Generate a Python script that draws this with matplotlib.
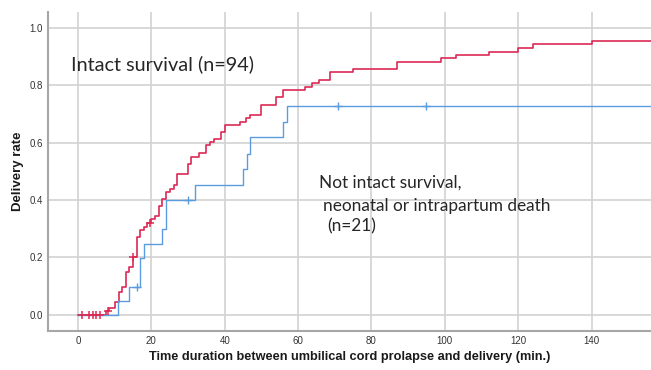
import numpy as np
import matplotlib
matplotlib.use("Agg")
import matplotlib.pyplot as plt

# ---------------- data ----------------
red_t = [0, 7.7, 8.5, 10, 11.1, 12.1, 13, 13.9, 15, 16.1,
         17, 17.9, 18.8, 20, 21.1, 22, 22.9, 23.9, 25, 26.1,
         27, 30, 30.9, 32.9, 35, 36.1, 37, 39.1, 40, 44.1,
         45.9, 47, 50, 53.9, 55.9, 62, 63.8, 65.7, 68.8, 75,
         87, 99, 103, 112, 120, 124, 140]
red_y = [0, 0.011, 0.022, 0.045, 0.08, 0.095, 0.15, 0.165, 0.2, 0.27,
         0.295, 0.305, 0.32, 0.333, 0.344, 0.38, 0.403, 0.427, 0.438, 0.451,
         0.49, 0.524, 0.549, 0.563, 0.59, 0.601, 0.614, 0.635, 0.662, 0.673,
         0.685, 0.697, 0.731, 0.757, 0.784, 0.793, 0.807, 0.819, 0.845, 0.857,
         0.881, 0.893, 0.905, 0.917, 0.929, 0.942, 0.953]
red_censor = [1, 3, 4, 5, 6, 8.2, 15, 19.7]

blue_t = [0, 11, 14, 17, 18, 23, 23.9, 32, 45, 46, 47, 55.9, 57]
blue_y = [0, 0.047, 0.095, 0.197, 0.247, 0.297, 0.399, 0.452, 0.508,
          0.56, 0.619, 0.671, 0.728]
blue_censor = [16, 30, 71, 95]

x_ticks = [0, 20, 40, 60, 80, 100, 120, 140]
y_ticks = [0.0, 0.2, 0.4, 0.6, 0.8, 1.0]

RED = "#dc2a55"
BLUE = "#5b9be0"
X_END = 156.2


def step_value(t, y, at):
    idx = np.searchsorted(t, at, side="right") - 1
    return np.asarray(y)[idx]


fig = plt.figure(figsize=(6.51, 3.70), dpi=100)
ax = fig.add_axes([0.0737, 0.1054, 0.9263, 0.8622])

# curves
ax.step(red_t + [X_END], red_y + [red_y[-1]], where="post",
        color=RED, lw=1.2, zorder=3)
ax.plot(red_censor, step_value(red_t, red_y, red_censor), "+",
        color=RED, ms=6, mew=1.1, zorder=4)

ax.step(blue_t + [X_END], blue_y + [blue_y[-1]], where="post",
        color=BLUE, lw=1.0, zorder=3)
ax.plot(blue_censor, step_value(blue_t, blue_y, blue_censor), "+",
        color=BLUE, ms=6, mew=1.0, zorder=4)

# annotations
ax.text(-1.8, 0.873, "Intact survival (n=94)", fontsize=14.3,
        family="Lato", color="#262626", ha="left", va="center")
ax.text(65.6, 0.459, "Not intact survival,", fontsize=12.4,
        family="Lato", color="#262626", ha="left", va="center")
ax.text(66.9, 0.377, "neonatal or intrapartum death", fontsize=12.4,
        family="Lato", color="#262626", ha="left", va="center")
ax.text(68.0, 0.307, "(n=21)", fontsize=12.4,
        family="Lato", color="#262626", ha="left", va="center")

# axes
ax.set_xlim(-8.18, X_END)
ax.set_ylim(-0.057, 1.055)
ax.set_xticks(x_ticks)
ax.set_yticks(y_ticks)
ax.set_yticklabels([f"{v:.1f}" for v in y_ticks])
ax.tick_params(length=0, labelsize=7, labelcolor="#333333", pad=3.5)
for lab in ax.get_xticklabels() + ax.get_yticklabels():
    lab.set_family("Liberation Sans")

ax.grid(True, color="#d2d2d2", lw=1.2)
ax.set_axisbelow(True)

for side in ["top", "right"]:
    ax.spines[side].set_visible(False)
for side in ["left", "bottom"]:
    ax.spines[side].set_color("#a6a6a6")
    ax.spines[side].set_linewidth(1.5)

ax.set_xlabel("Time duration between umbilical cord prolapse and delivery (min.)",
              fontsize=9.2, fontweight="bold", family="Liberation Sans",
              color="#1a1a1a", labelpad=4)
ax.set_ylabel("Delivery rate", fontsize=9.5, fontweight="bold",
              family="Liberation Sans", color="#1a1a1a", labelpad=4)

fig.savefig("out.png", dpi=100)
